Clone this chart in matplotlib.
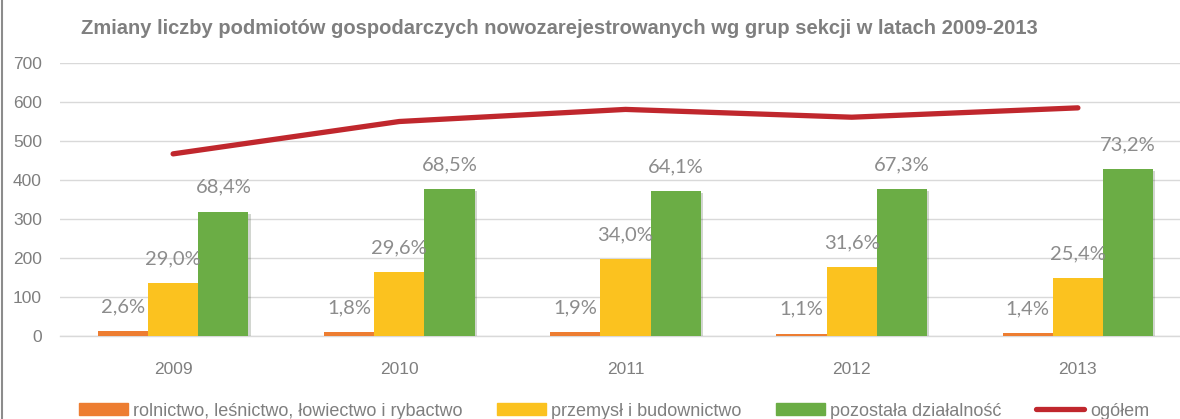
import matplotlib
matplotlib.use("Agg")
import matplotlib.pyplot as plt
import matplotlib.patheffects as pe
from matplotlib.lines import Line2D
from matplotlib.patches import Patch
import numpy as np

years = ["2009", "2010", "2011", "2012", "2013"]
rolnictwo = [12, 10, 11, 6, 8]
przemysl = [135, 163, 197, 177, 149]
pozostala = [319, 377, 372, 377, 428]
ogolem = [467, 550, 581, 561, 585]
pct_rolnictwo = ["2,6%", "1,8%", "1,9%", "1,1%", "1,4%"]
pct_przemysl = ["29,0%", "29,6%", "34,0%", "31,6%", "25,4%"]
pct_pozostala = ["68,4%", "68,5%", "64,1%", "67,3%", "73,2%"]
series_names = ["rolnictwo, leśnictwo, łowiectwo i rybactwo",
                "przemysł i budownictwo", "pozostała działalność", "ogółem"]
title = "Zmiany liczby podmiotów gospodarczych nowozarejestrowanych wg grup sekcji w latach 2009-2013"

c_orange = "#ED7D31"
c_yellow = "#FBC21F"
c_green = "#6BAD45"
c_red = "#C0272D"
c_text = "#7F7F7F"
c_grid = "#D9D9D9"

narrow = ["Liberation Sans", "DejaVu Sans"]
label_font = ["Lato", "DejaVu Sans"]

W, H = 1180, 419
fig = plt.figure(figsize=(W / 100, H / 100), dpi=100)
ax = fig.add_axes([60 / W, (H - 336) / H, 1131 / W, (336 - 63) / H])

x = np.arange(len(years))
bw = 0.222
shadow = [pe.SimplePatchShadow(offset=(1.5, -1.5), alpha=0.2), pe.Normal()]
groups = [(rolnictwo, c_orange, pct_rolnictwo, -bw),
          (przemysl, c_yellow, pct_przemysl, 0),
          (pozostala, c_green, pct_pozostala, bw)]
for vals, col, labs, off in groups:
    bars = ax.bar(x + off, vals, width=bw, color=col, zorder=3)
    for b in bars:
        b.set_path_effects(shadow)
    for xi, v, lab in zip(x + off, vals, labs):
        ax.annotate(lab, (xi, v), xytext=(0, 17.5), textcoords="offset points",
                    ha="center", va="center", fontsize=14.5, color="#8C8C8C",
                    family=label_font, zorder=5)

ax.plot(x, ogolem, color=c_red, lw=3.8, solid_capstyle="round",
        solid_joinstyle="round", zorder=4)

ax.set_xlim(-0.5, 4.5)
ax.set_ylim(0, 700)
ax.set_yticks(np.arange(0, 701, 100))
ax.set_xticks(x)
ax.set_xticklabels(years, family=narrow, fontsize=12.5, color=c_text)
for t in ax.get_yticklabels():
    t.set_family(narrow)
ax.tick_params(axis="y", length=0, pad=13, labelsize=12.5, labelcolor=c_text)
ax.tick_params(axis="x", length=0, pad=19)
ax.grid(axis="y", color=c_grid, lw=1, zorder=0)
ax.set_axisbelow(True)
for s in ["top", "right", "left"]:
    ax.spines[s].set_visible(False)
ax.spines["bottom"].set_color(c_grid)
ax.spines["bottom"].set_linewidth(1)

fig.text(559 / W, 1 - 28 / H, title, ha="center", va="center",
         fontsize=14.5, fontweight="bold", color=c_text, family=narrow)

handles = [Patch(color=c_orange), Patch(color=c_yellow), Patch(color=c_green),
           Line2D([], [], color=c_red, lw=3.8, solid_capstyle="round")]
leg = fig.legend(handles, series_names, loc="center", ncol=4,
                 bbox_to_anchor=(614 / W, 1 - 411 / H), frameon=False,
                 prop={"family": narrow, "size": 13}, handlelength=2.7,
                 handleheight=0.6, columnspacing=1.9, handletextpad=0.3)
for t in leg.get_texts():
    t.set_color(c_text)

fig.add_artist(Line2D([2 / W, 2 / W], [0, 1], color="#8C8C8C", lw=1.5))

fig.savefig("out.png", dpi=100)
